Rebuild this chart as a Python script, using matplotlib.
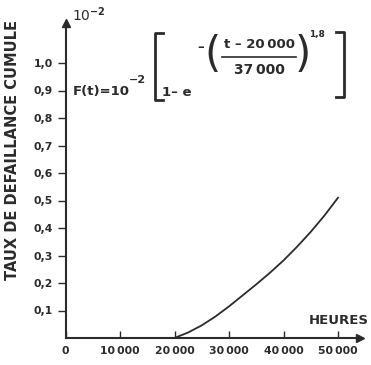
import matplotlib
matplotlib.use("Agg")
import matplotlib.pyplot as plt
from matplotlib.lines import Line2D

W, H = 371, 365

# values (F in units of 10^-2)
heures = [20000, 22500, 25000, 27500, 30000, 32500, 35000, 37500,
          40000, 42500, 45000, 47500, 50000]
taux = [0.0, 0.02, 0.046, 0.078, 0.115, 0.155, 0.195, 0.237,
        0.282, 0.332, 0.386, 0.445, 0.51]

x_ticks = [0, 10000, 20000, 30000, 40000, 50000]
x_labels = ["0", "10\u2009000", "20\u2009000", "30\u2009000", "40\u2009000", "50\u2009000"]
y_ticks = [0.1, 0.2, 0.3, 0.4, 0.5, 0.6, 0.7, 0.8, 0.9, 1.0]
y_labels = ["0,1", "0,2", "0,3", "0,4", "0,5", "0,6", "0,7", "0,8", "0,9", "1,0"]

INK = "#2b2b2b"
plt.rcParams["font.family"] = "DejaVu Sans"
plt.rcParams["font.weight"] = "bold"


def fx(x):
    return x / W


def fy(y):
    return 1 - y / H


fig = plt.figure(figsize=(W / 100, H / 100), dpi=100)
# axes: origin at (65, 338) px, x scale 54.5 px / 10000, y scale 275 px / 1.0
x0, y0 = 65.5, 338
x1, y1 = 360, 23
ax = fig.add_axes([fx(x0), fy(y0), fx(x1 - x0), (y0 - y1) / H])
ax.set_xlim(0, (x1 - x0) / 54.5 * 10000)
ax.set_ylim(0, (y0 - y1) / 275)

ax.plot(heures, taux, color=INK, lw=1.3)

for s in ["top", "right"]:
    ax.spines[s].set_visible(False)
for s in ["left", "bottom"]:
    ax.spines[s].set_color(INK)
    ax.spines[s].set_linewidth(1.5)
ax.plot(1, 0, ">", color=INK, ms=6, transform=ax.transAxes, clip_on=False)
ax.plot(0, 1, "^", color=INK, ms=6, transform=ax.transAxes, clip_on=False)

ax.set_xticks(x_ticks)
ax.set_xticklabels(x_labels, fontsize=7.8, fontweight="bold", color=INK)
ax.set_yticks(y_ticks)
ax.set_yticklabels(y_labels, fontsize=7.8, fontweight="bold", color=INK)
ax.tick_params(axis="x", direction="in", length=5, width=1, color=INK, pad=6)
ax.tick_params(axis="y", direction="out", length=6, width=1, color=INK, pad=3)

ax.set_ylabel("TAUX DE DEFAILLANCE CUMULE", fontsize=10.5, fontweight="bold",
              color=INK)
ax.yaxis.set_label_coords(-(x0 - 20) / (x1 - x0), (y0 - 150) / (y0 - y1))

fig.text(fx(339), fy(320), "HEURES", fontsize=9.5, fontweight="bold", color=INK,
         ha="center", va="center")
fig.text(fx(72), fy(15), "10$^{-2}$", fontsize=10, color=INK, ha="left",
         va="center", fontweight="normal")

# formula
kw = dict(color=INK, fontweight="bold")
fig.text(fx(73), fy(91), "F(t)=10", fontsize=9.5, ha="left", va="center", **kw)
fig.text(fx(129), fy(80), "\u22122", fontsize=8, ha="left", va="center", **kw)
fig.text(fx(162), fy(92), "1\u2013 e", fontsize=9.5, ha="left", va="center", **kw)
fig.text(fx(201), fy(48), "\u2013", fontsize=9.5, ha="center", va="center", **kw)
fig.text(fx(212), fy(55), "(", fontsize=30, ha="center", va="center",
         color=INK, fontweight="normal")
fig.text(fx(303), fy(55), ")", fontsize=30, ha="center", va="center",
         color=INK, fontweight="normal")
fig.text(fx(259), fy(45), "t \u2013 20\u2009000", fontsize=9.5, ha="center",
         va="center", **kw)
fig.text(fx(259), fy(70), "37\u2009000", fontsize=10, ha="center", va="center", **kw)
fig.text(fx(317), fy(35), "1,8", fontsize=6.5, ha="center", va="center", **kw)


def seg(xs, ys, lw=1.5):
    fig.add_artist(Line2D([fx(v) for v in xs], [fy(v) for v in ys],
                          color=INK, lw=lw, transform=fig.transFigure))


seg([222, 296], [57, 57], lw=1.2)
seg([163, 155, 155, 163], [33, 33, 100, 100], lw=2)
seg([336, 344, 344, 336], [32, 32, 97, 97], lw=2)

fig.savefig("out.png", dpi=100, facecolor="white")
